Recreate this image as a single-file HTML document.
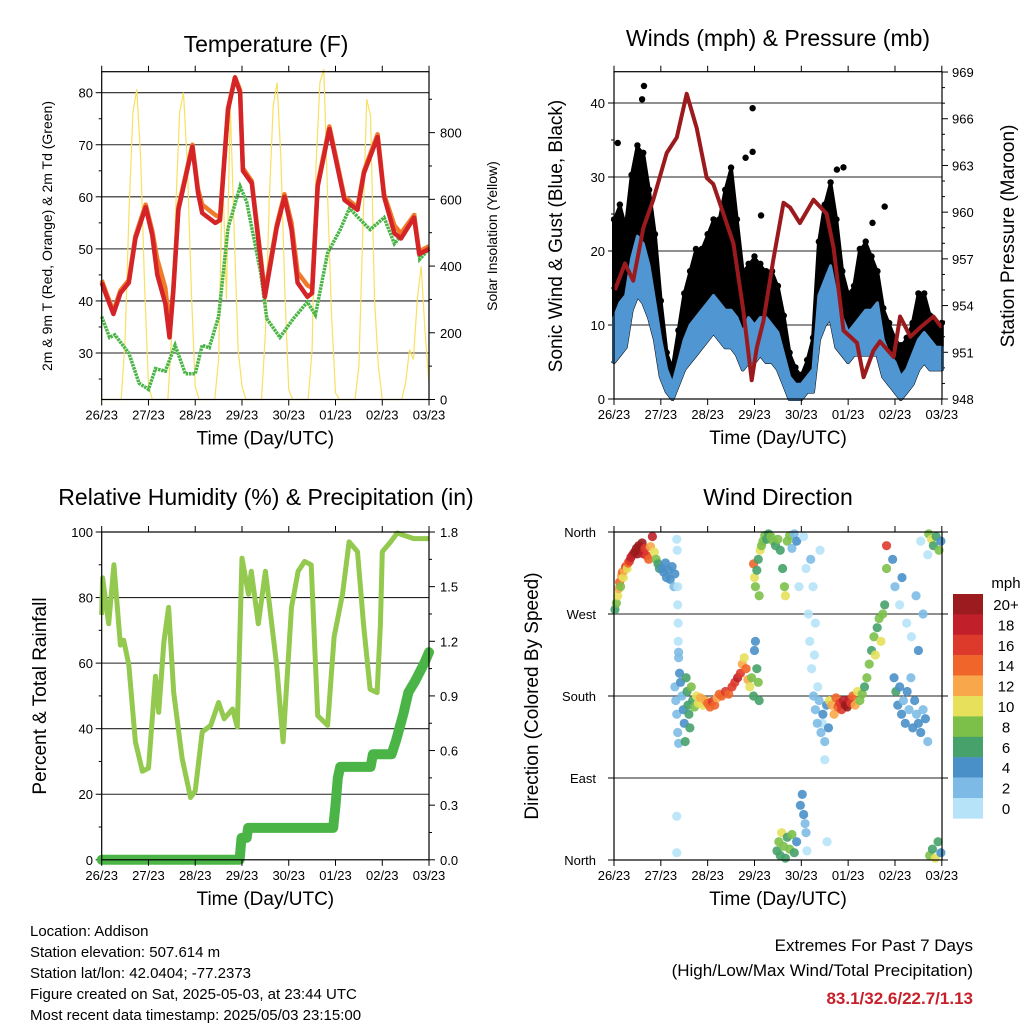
<!DOCTYPE html>
<html><head><meta charset="utf-8"><style>
body{margin:0;background:#fff;}
svg{display:block;font-family:"Liberation Sans",sans-serif;}
</style></head><body>
<svg id="c" width="1024" height="1024" viewBox="0 0 1024 1024" xmlns="http://www.w3.org/2000/svg">
<g id="g"></g>
<text x="30" y="936" font-size="15">Location: Addison</text>
<text x="30" y="957" font-size="15">Station elevation: 507.614 m</text>
<text x="30" y="978" font-size="15">Station lat/lon: 42.0404; -77.2373</text>
<text x="30" y="999" font-size="15">Figure created on Sat, 2025-05-03, at 23:44 UTC</text>
<text x="30" y="1020" font-size="15">Most recent data timestamp: 2025/05/03 23:15:00</text>
<text x="973" y="951" font-size="17" text-anchor="end">Extremes For Past 7 Days</text>
<text x="973" y="976" font-size="17" text-anchor="end">(High/Low/Max Wind/Total Precipitation)</text>
<text x="973" y="1004" font-size="17" font-weight="bold" fill="#c8202a" text-anchor="end">83.1/32.6/22.7/1.13</text>
</svg>
<script>
const xLabels=["26/23","27/23","28/23","29/23","30/23","01/23","02/23","03/23"];
// Temperature
const tDays=[0,0.1,0.25,0.4,0.58,0.72,0.94,1.08,1.19,1.36,1.45,1.53,1.64,1.94,2.06,2.15,2.43,2.53,2.7,2.85,2.96,3.02,3.21,3.49,3.74,3.91,4.06,4.19,4.4,4.5,4.62,4.87,5.19,5.47,5.61,5.9,6.04,6.26,6.4,6.68,6.79,7];
const tRed=[43.5,41,37.5,41.5,43.5,52,58,52.7,45,39.5,33,41.5,57.5,69.6,60.8,56.9,55,55.5,76.7,82.9,80,65,62.6,40.8,54,60,53.7,43.5,40.8,41.5,62,73,59.4,57.5,64.6,71.5,60,53,52,56,49,50];
const tOrange=[44,41.5,38,42,44,52.5,58.5,53.5,48,42.5,35,42,58,70,61.5,58.5,56.5,56,77,83,80.5,65.5,63,41.5,54.5,60.5,55,45.5,43,42.5,62.5,73.5,60,58,65,72,60.5,54.5,53,56.5,49.5,50.5];
const dDays=[0,0.17,0.28,0.58,0.8,1.0,1.15,1.36,1.57,1.79,2.0,2.15,2.3,2.5,2.7,2.96,3.1,3.4,3.53,3.81,4.1,4.4,4.57,4.83,5.1,5.3,5.53,5.74,6.04,6.26,6.54,6.7,6.8,7];
const dew=[37,33,33.5,30,24.2,23,27,26.5,31.5,26,26,31.5,31,37,54,62,59,45.4,36.6,33,36.6,39.8,37.3,49.2,53.7,57.8,55.6,53.7,56,51,54,56,48,50];
const solar=[0,0,0,0,0,0,180,560,860,930,720,340, 40,0,0,0,0,0,200,570,860,920,700,330, 40,0,0,0,0,0,120,700,300,880,500,150, 40,0,0,0,0,0,200,600,880,950,720,330, 30,0,0,0,0,0,150,700,950,990,600,250, 20,0,0,0,0,0,100,500,900,850,300,100, 0,0,0,0,0,0,50,150,120,300,400,200, 50];
// Winds & pressure
const pDays=[0.02,0.234,0.41,0.627,0.84,1.125,1.34,1.553,1.766,1.98,2.12,2.336,2.55,2.76,2.94,3.05,3.19,3.4,3.62,3.76,3.97,4.26,4.54,4.69,4.9,5.19,5.33,5.54,5.68,5.97,6.11,6.33,6.54,6.82,7.0];
const pressure=[955,956.7,955.6,959,960.8,963.8,964.8,967.6,965.4,962.2,961.8,959.9,958,953.7,949.2,951.3,953,956.9,960.6,960.3,959.3,960.8,959.9,957.7,952.4,951.6,949.4,951.1,951.7,950.7,953.3,952,952.6,953.3,952.6];
const windLo=[5,6,7,12,14,13,11,8,3,1,0,2,4,5,6,7,8,9,8,7,7,6,4,5,5,6,5,5,4,2,0,0,0,1,1,8,10,11,7,6,5,6,6,6,6,6,3,2,1,0,1,2,4,5,4,4,4];
const windHi=[11,13,14,19,22,21,18,13,8,4,2,5,8,10,11,12,13,14,13,12,12,11,9,11,10,11,11,10,9,6,3,2,2,3,4,14,16,18,14,11,9,10,11,12,12,13,8,6,5,3,4,6,8,9,8,7,7];
const gust=[24,26,23,30,34,33,28,22,13,6,4,9,14,17,20,20,22,24,24,28,31,24,17,18,19,18,17,17,15,11,6,4,3,5,8,21,26,29,24,17,14,15,20,21,19,17,12,10,8,7,8,10,14,14,11,10,10];
const gustOutDays=[0.64,0.6,2.96,0.08,2.96,2.81,5.78,4.76,4.9,3.14,5.52];
const gustOut=[42.3,40.5,39.3,34.6,33.4,32.6,26,31,31.3,24.8,23.8];
// RH & precip
const rhDays=[0,0.02,0.15,0.26,0.4,0.47,0.58,0.72,0.87,1.0,1.15,1.22,1.33,1.43,1.54,1.72,1.9,2.0,2.15,2.33,2.5,2.62,2.8,2.9,3.0,3.14,3.2,3.35,3.5,3.57,3.74,3.88,4.06,4.2,4.34,4.48,4.62,4.83,4.97,5.15,5.29,5.47,5.6,5.74,5.89,5.96,6.0,6.18,6.32,6.67,7.0];
const rh=[74.7,86,72,90,65.5,67,59.5,36,27,28,56,45,66.5,77,51,31,19,21,39,41,48,43,46,40.5,92,81,88,72,88,80,59.5,36,77,88,91,90,44,41,68,81,97,94,71.6,52,51,71.6,94,97,99.7,98,98];
const prDays=[0,2.95,2.99,3.1,3.13,4.95,5.0,5.05,5.1,5.75,5.8,6.2,6.3,6.45,6.56,6.7,6.9,7.0];
const precip=[0,0,0.12,0.12,0.175,0.175,0.3,0.45,0.51,0.51,0.58,0.58,0.66,0.8,0.92,0.98,1.08,1.14];
// Wind direction
const dirDay=[0.02,0.05,0.08,0.10,0.12,0.14,0.16,0.18,0.20,0.22,0.25,0.28,0.30,0.33,0.36,0.40,0.44,0.48,0.50,0.53,0.56,0.60,0.63,0.66,0.70,0.74,0.78,0.82,0.86,0.90,0.94,0.97,
1.02,1.06,1.10,1.12,1.16,1.20,1.24,1.28,1.30,
1.34,1.35,1.36,1.36,1.37,1.37,1.38,1.34,1.34,1.38,
1.30,1.32,1.34,1.36,1.38,1.40,1.42,1.45,1.48,1.50,1.52,1.54,1.56,1.58,1.60,1.62,1.65,1.68,1.72,1.76,1.80,
1.85,1.90,1.95,2.00,2.05,2.10,2.15,2.20,2.25,
2.30,2.38,2.45,2.52,2.58,2.64,2.70,2.74,2.78,2.82,2.86,2.90,2.94,
2.98,3.00,3.02,3.05,3.08,3.10,
2.98,3.00,3.02,3.05,3.08,3.10,3.12,3.15,3.18,3.22,3.26,3.30,3.35,3.40,3.45,3.50,3.55,3.60,3.64,3.66,3.70,3.75,3.80,3.85,3.90,3.95,
3.48,3.52,3.55,3.58,3.62,3.66,3.70,3.75,3.80,3.85,3.90,3.98,4.02,4.05,4.08,4.10,4.12,
4.05,4.10,4.15,4.18,4.22,4.25,4.30,4.35,4.40,4.45,4.50,4.55,4.20,4.28,
4.26,4.30,4.34,4.38,4.42,4.46,4.50,4.54,4.58,
4.60,4.65,4.70,4.74,4.78,4.82,4.86,4.90,4.94,4.98,5.02,5.06,5.10,5.15,5.20,5.25,5.30,
5.35,5.40,5.45,5.50,5.55,5.58,5.62,5.66,5.70,5.74,5.78,5.82,5.82,
5.98,6.02,6.06,6.10,6.14,6.18,6.22,6.26,6.30,6.34,6.38,6.42,6.46,6.50,6.55,6.60,6.65,6.70,
5.95,6.00,6.10,6.15,6.25,6.35,6.45,6.55,6.60,6.70,6.50,
6.72,6.78,6.82,6.88,6.94,6.98,6.74,6.80,6.86,6.92,6.98];
const dirDeg=[275,282,290,298,305,300,312,316,310,318,322,320,326,328,332,335,338,342,336,345,340,348,336,342,334,330,344,355,338,330,325,320,
320,316,326,310,318,308,322,300,314,
352,340,300,280,260,240,228,48,8,222,
190,175,160,140,128,205,195,180,165,150,130,200,185,170,160,145,190,175,168,180,172,
178,170,175,172,168,174,170,178,182,
180,185,182,190,195,200,205,215,222,210,198,190,200,
180,230,240,210,195,175,
325,310,300,318,330,290,340,345,350,356,352,358,355,350,345,352,340,320,300,290,350,356,342,358,350,300,
10,20,5,30,15,2,25,12,28,8,20,60,72,50,40,30,10,
355,320,270,240,210,300,260,190,340,150,110,20,330,225,
180,165,150,175,140,160,130,170,145,
175,170,160,178,168,172,165,175,170,168,176,172,180,170,185,175,182,
190,200,215,230,245,225,255,265,240,270,280,320,345,
200,185,170,190,160,175,150,185,165,200,145,175,160,150,140,165,155,130,
330,300,280,310,260,245,290,350,270,335,230,
358,352,345,355,340,350,5,12,2,20,8];
const dirSpd=[6,8,10,12,14,9,13,15,10,12,16,11,14,17,18,19,20,21,20,22,20,21,19,17,16,14,12,18,10,8,7,6,
4,5,4,4,5,4,4,3,4,
1,1,1,1,1,1,2,1,1,2,
2,2,2,2,3,4,4,3,4,5,6,6,7,6,7,6,8,7,9,10,11,
12,10,13,15,14,16,15,13,14,
15,16,14,17,16,18,17,12,10,15,13,11,9,
6,5,4,7,8,6,
14,10,8,7,6,8,10,8,9,8,7,6,9,8,7,8,6,7,8,10,9,8,2,3,4,1,
6,8,7,10,8,6,7,9,8,6,5,4,4,4,3,2,1,
1,1,1,1,1,1,1,1,1,1,1,1,2,1,
2,2,3,3,2,4,3,5,4,
10,12,13,14,15,17,16,18,20,21,19,16,14,12,10,9,8,
7,9,8,7,8,10,7,8,11,9,6,8,16,
5,6,4,4,5,3,4,4,2,3,4,4,3,4,4,3,4,3,
4,3,1,4,1,1,3,1,2,1,4,
8,10,7,6,8,4,8,6,10,7,5];
const cbLabels=["20+","18","16","14","12","10","8","6","4","2","0"];
const cbColors=["#9b1b1e","#c1202a","#de3a2c","#f0652a","#f8a84a","#e6e05a","#7cc04a","#46a26a","#4a90c8","#7dbbe6","#b6e3f7"];

const NS="http://www.w3.org/2000/svg";
const G=document.getElementById('g');
function mk(tag,attrs,parent){const e=document.createElementNS(NS,tag);for(const k in attrs)e.setAttribute(k,attrs[k]);(parent||G).appendChild(e);return e;}
function txt(x,y,s,size,anchor,rot){const e=mk('text',{x:x,y:y,'font-size':size,'text-anchor':anchor||'middle'});if(rot)e.setAttribute('transform','rotate(-90 '+x+' '+y+')');e.textContent=s;return e;}
function pts(xs,ys,fx,fy){return xs.map((d,i)=>fx(d).toFixed(1)+','+fy(ys[i]).toFixed(1)).join(' ');}

const xT=d=>101.7+d*46.76, yT=t=>92.7+(80-t)*5.206, yS=v=>399.5-v*0.3336;
const xW=d=>614+d*46.83, yW=v=>399-v*7.4, yP=p=>399-(p-948)*15.57;
const xR=d=>101.7+d*46.76, yRH=v=>859.8-v*3.278, yPr=v=>859.8-v*182.1;
const xD=d=>614+d*46.83, yD=g=>860-g*0.9111;

function frame(x0,x1,y0,y1,name,xf){
  const b=mk('rect',{x:x0,y:y0,width:x1-x0,height:y1-y0,fill:'none',stroke:'#000','stroke-width':1.2});
  
  for(let i=0;i<8;i++){const x=xf(i);
    mk('line',{x1:x,x2:x,y1:y0-6,y2:y0,stroke:'#000','stroke-width':1});
    mk('line',{x1:x,x2:x,y1:y1,y2:y1+6,stroke:'#000','stroke-width':1});
    const t=txt(x,y1+20,xLabels[i],13);}
  const xt=txt((x0+x1)/2,y1+45,'Time (Day/UTC)',19);
  
}
function hgrid(x0,x1,y){mk('line',{x1:x0,x2:x1,y1:y,y2:y,stroke:'#222','stroke-width':1.1});}
function lt(x,y,len){mk('line',{x1:x-len,x2:x,y1:y,y2:y,stroke:'#000','stroke-width':1});}
function rt(x,y,len){mk('line',{x1:x,x2:x+len,y1:y,y2:y,stroke:'#000','stroke-width':1});}

// ===== Panel 1 temperature =====
let t=txt(266,52,'Temperature (F)',23);
[30,40,50,60,70,80].forEach(v=>{hgrid(101.7,429,yT(v));lt(101.7,yT(v),6);const e=txt(93,yT(v)+5,String(v),13,'end');});
[25,35,45,55,65,75,85].forEach(v=>{if(yT(v)>72)lt(101.7,yT(v),3);});
for(let v=0;v<=950;v+=100){rt(429,yS(v),v%200==0?6:3);if(v%200==0){const e=txt(440,yS(v)+5,String(v),13,'start');}}
t=txt(52,236,'2m & 9m T (Red, Orange) & 2m Td (Green)',14,'middle',true);
t=txt(497,236,'Solar Insolation (Yellow)',14,'middle',true);
const solDays=solar.map((v,i)=>i/12);
let e=mk('polyline',{points:pts(solDays,solar,xT,yS),fill:'none',stroke:'#f8e060','stroke-width':1.2});

e=mk('polyline',{points:pts(dDays,dew,xT,yT),fill:'none',stroke:'#4ab546','stroke-width':3.5,'stroke-dasharray':'2.5 0.8'});

e=mk('polyline',{points:pts(tDays,tOrange,xT,yT),fill:'none',stroke:'#f07a2a','stroke-width':4.5,'stroke-linejoin':'round'});

e=mk('polyline',{points:pts(tDays,tRed,xT,yT),fill:'none',stroke:'#d42428','stroke-width':4.5,'stroke-linejoin':'round'});

frame(101.7,429,71.7,399.5,'temperature',xT);

// ===== Panel 2 winds =====
t=txt(778,46,'Winds (mph) & Pressure (mb)',23);
[0,10,20,30,40].forEach(v=>{if(v>0)hgrid(614,942,yW(v));lt(614,yW(v),6);const e=txt(605,yW(v)+5,String(v),13,'end');});
[5,15,25,35].forEach(v=>lt(614,yW(v),3));
for(let p=948;p<=969;p++){rt(942,yP(p),p%3==0?6:3);if(p%3==0){const e=txt(952,yP(p)+5,String(p),13,'start');}}
t=txt(562,236,'Sonic Wind & Gust (Blue, Black)',19,'middle',true);
t=txt(1014,236,'Station Pressure (Maroon)',19,'middle',true);
const wDays=windLo.map((v,i)=>i*0.125);
e=mk('polygon',{points:pts(wDays,gust,xW,yW)+' '+pts(wDays.slice().reverse(),windLo.slice().reverse(),xW,yW),fill:'#000',stroke:'#000','stroke-width':4,'stroke-linejoin':'round'});

wDays.forEach((d,i)=>{const c=mk('circle',{cx:xW(d),cy:yW(gust[i])-2,r:3.2,fill:'#000'});

});
e=mk('polygon',{points:pts(wDays,windHi,xW,yW)+' '+pts(wDays.slice().reverse(),windLo.slice().reverse(),xW,yW),fill:'#4f96d2',stroke:'#4f96d2','stroke-width':3,'stroke-linejoin':'round'});

gustOutDays.forEach((d,i)=>{const c=mk('circle',{cx:xW(d),cy:yW(gustOut[i]),r:3.2,fill:'#000'});

});
e=mk('polyline',{points:pts(pDays,pressure,xW,yP),fill:'none',stroke:'#9b1a1e','stroke-width':4,'stroke-linejoin':'round'});

frame(614,942,71.7,399,'winds',xW);

// ===== Panel 3 RH =====
t=txt(266,505,'Relative Humidity (%) & Precipitation (in)',23);
[0,20,40,60,80,100].forEach(v=>{if(v>0&&v<100)hgrid(101.7,429,yRH(v));lt(101.7,yRH(v),6);const e=txt(93,yRH(v)+5,String(v),13,'end');});
[10,30,50,70,90].forEach(v=>lt(101.7,yRH(v),3));
for(let k=0;k<=12;k++){const v=k*0.15;rt(429,yPr(v),k%2==0?6:3);if(k%2==0){const e=txt(440,yPr(v)+5,v.toFixed(1),13,'start');}}
t=txt(46,696,'Percent & Total Rainfall',19,'middle',true);
e=mk('polyline',{points:pts(rhDays,rh,xR,yRH),fill:'none',stroke:'#92c94e','stroke-width':5,'stroke-linejoin':'round'});

e=mk('polyline',{points:pts(prDays,precip,xR,yPr),fill:'none',stroke:'#4ab546','stroke-width':10,'stroke-linejoin':'round','stroke-linecap':'round'});

frame(101.7,429,532,859.8,'rh',xR);

// ===== Panel 4 direction =====
t=txt(778,505,'Wind Direction',23);
[[360,'North'],[270,'West'],[180,'South'],[90,'East'],[0,'North']].forEach(a=>{if(a[0]>0&&a[0]<360)hgrid(614,942,yD(a[0]));hgrid(942,948,yD(a[0]));lt(614,yD(a[0]),6);const e=txt(596,yD(a[0])+5,a[1],13,'end');});
t=txt(538,696,'Direction (Colored By Speed)',19,'middle',true);
function spdColor(s){let k=Math.min(10,Math.floor(s/2));return cbColors[10-k];}
dirDay.forEach((d,i)=>{const c=mk('circle',{cx:xD(d),cy:yD(dirDeg[i]),r:4.6,fill:spdColor(dirSpd[i]),'fill-opacity':0.9});

});
frame(614,942,532,860,'direction',xD);
t=txt(1006,588,'mph',15);
cbColors.forEach((col,i)=>{const y=594+i*20.4;
const r=mk('rect',{x:953,y:y,width:30,height:20.6,fill:col});


const l=txt(1006,y+16,cbLabels[i],15);

});
</script>
</body></html>
